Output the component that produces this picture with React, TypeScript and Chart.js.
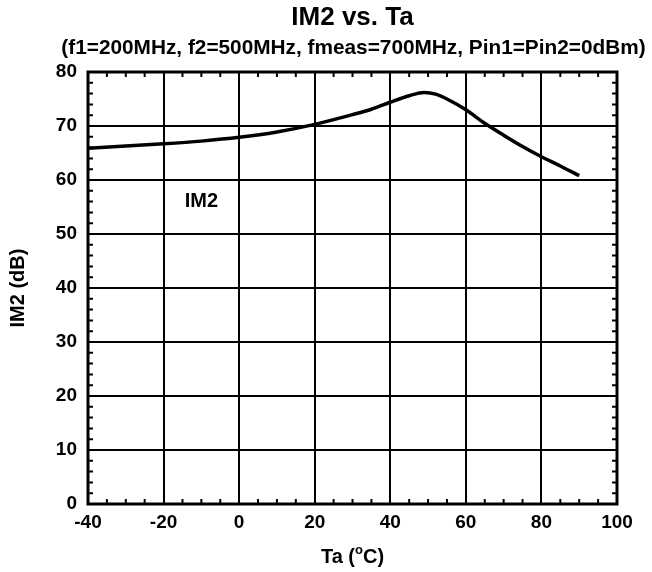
import React, { useEffect, useRef } from "react";
import { Chart, registerables } from "chart.js";

Chart.register(...registerables);

const titleText = "IM2 vs. Ta";
const subtitleText = "(f1=200MHz, f2=500MHz, fmeas=700MHz, Pin1=Pin2=0dBm)";
const xAxisTitle = ["Ta (", "o", "C)"];
const yAxisTitle = "IM2 (dB)";
const seriesLabel = "IM2";
const seriesLabelPos = { x: -10, y: 56 };

const tempC = [-40, -30, -20, -10, 0, 10, 20, 30, 35, 40, 45, 49, 52, 55, 60, 65, 70, 75, 80, 85, 90];
const im2dB = [65.9, 66.3, 66.7, 67.2, 67.9, 68.9, 70.3, 72.1, 73.1, 74.4, 75.6, 76.2, 75.9, 75.0, 73.0, 70.5, 68.3, 66.2, 64.3, 62.6, 60.8];

const xMin = -40, xMax = 100, xStep = 20, xMinor = 5;
const yMin = 0, yMax = 80, yStep = 10, yMinor = 2;

const FONT = "'Liberation Sans', Arial, sans-serif";

const decorPlugin = {
  id: "decor",
  afterDatasetsDraw(chart: any) {
    const ctx = chart.ctx;
    const { left, right, top, bottom } = chart.chartArea;
    const xs = chart.scales.x;
    const ys = chart.scales.y;
    ctx.save();
    ctx.strokeStyle = "#000";
    // minor ticks
    ctx.lineWidth = 2;
    const tl = 5;
    for (let v = xMin; v <= xMax; v += xMinor) {
      if (v % xStep === 0) continue;
      const px = xs.getPixelForValue(v);
      ctx.beginPath();
      ctx.moveTo(px, bottom);
      ctx.lineTo(px, bottom - tl);
      ctx.moveTo(px, top);
      ctx.lineTo(px, top + tl);
      ctx.stroke();
    }
    for (let v = yMin; v <= yMax; v += yMinor) {
      if (v % yStep === 0) continue;
      const py = ys.getPixelForValue(v);
      ctx.beginPath();
      ctx.moveTo(left, py);
      ctx.lineTo(left + tl, py);
      ctx.moveTo(right, py);
      ctx.lineTo(right - tl, py);
      ctx.stroke();
    }
    // frame
    ctx.lineWidth = 3;
    ctx.strokeRect(left, top, right - left, bottom - top);

    ctx.fillStyle = "#000";
    const cx = (left + right) / 2;
    // title
    ctx.textAlign = "center";
    ctx.textBaseline = "middle";
    ctx.font = `bold 26px ${FONT}`;
    ctx.fillText(titleText, cx, 18);
    ctx.font = `bold 20.8px ${FONT}`;
    ctx.fillText(subtitleText, cx + 1, 48);

    // series label
    ctx.font = `bold 20px ${FONT}`;
    ctx.fillText(seriesLabel, xs.getPixelForValue(seriesLabelPos.x), ys.getPixelForValue(seriesLabelPos.y));

    // y title
    ctx.save();
    ctx.translate(18, (top + bottom) / 2);
    ctx.rotate(-Math.PI / 2);
    ctx.font = `bold 20px ${FONT}`;
    ctx.fillText(yAxisTitle, 0, 0);
    ctx.restore();

    // x title with superscript
    const big = `bold 20px ${FONT}`;
    const small = `bold 13px ${FONT}`;
    ctx.textAlign = "left";
    ctx.textBaseline = "alphabetic";
    ctx.font = big;
    const w1 = ctx.measureText(xAxisTitle[0]).width;
    const w3 = ctx.measureText(xAxisTitle[2]).width;
    ctx.font = small;
    const w2 = ctx.measureText(xAxisTitle[1]).width;
    let x0 = cx - (w1 + w2 + w3) / 2;
    const base = 563;
    ctx.font = big;
    ctx.fillText(xAxisTitle[0], x0, base);
    x0 += w1;
    ctx.font = small;
    ctx.fillText(xAxisTitle[1], x0, base - 9);
    x0 += w2;
    ctx.font = big;
    ctx.fillText(xAxisTitle[2], x0, base);
    ctx.restore();
  },
};

export default function App() {
  const ref = useRef<HTMLCanvasElement>(null);
  useEffect(() => {
    if (!ref.current) return;
    const chart = new Chart(ref.current, {
      type: "line",
      data: {
        datasets: [
          {
            label: seriesLabel,
            data: tempC.map((t, i) => ({ x: t, y: im2dB[i] })),
            borderColor: "#000",
            borderWidth: 3.5,
            pointRadius: 0,
            cubicInterpolationMode: "monotone",
            fill: false,
          },
        ],
      },
      options: {
        animation: false,
        responsive: false,
        maintainAspectRatio: false,
        layout: { padding: { left: 0, right: 35, top: 72, bottom: 0 } },
        plugins: {
          legend: { display: false },
          title: { display: false },
          tooltip: { enabled: false },
        },
        scales: {
          x: {
            type: "linear",
            min: xMin,
            max: xMax,
            ticks: {
              stepSize: xStep,
              color: "#000",
              font: { family: FONT, size: 19, weight: "bold" },
              padding: 7,
            },
            grid: { color: "#000", lineWidth: 2, drawTicks: false },
            border: { display: false },
            afterFit: (s: any) => {
              s.height = 68;
            },
          },
          y: {
            type: "linear",
            min: yMin,
            max: yMax,
            ticks: {
              stepSize: yStep,
              color: "#000",
              font: { family: FONT, size: 19, weight: "bold" },
              padding: 11,
            },
            grid: { color: "#000", lineWidth: 2, drawTicks: false },
            border: { display: false },
            afterFit: (s: any) => {
              s.width = 88;
            },
          },
        },
      },
      plugins: [decorPlugin],
    });
    return () => chart.destroy();
  }, []);
  return (
    <div style={{ position: "fixed", left: 0, top: 0, width: 652, height: 572, background: "#fff" }}>
      <canvas ref={ref} width={652} height={572} style={{ width: 652, height: 572 }} />
    </div>
  );
}
